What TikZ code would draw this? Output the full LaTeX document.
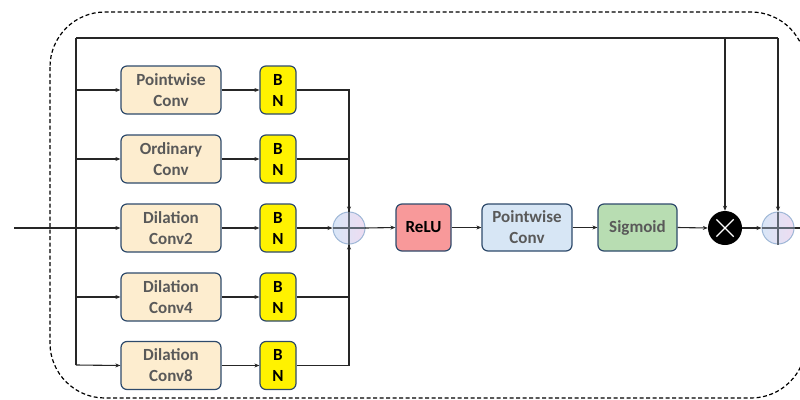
\documentclass[tikz,border=0pt]{standalone}
\usepackage{fontspec}
\setmainfont{Carlito}
\usetikzlibrary{arrows.meta}
\definecolor{convfill}{HTML}{FDEDCF}
\definecolor{boxline}{HTML}{2E4A6B}
\definecolor{txtgray}{HTML}{595959}
\definecolor{linec}{HTML}{262626}
\definecolor{relufill}{HTML}{F8999A}
\definecolor{pwfill}{HTML}{D7E6F5}
\definecolor{sigfill}{HTML}{B8DDB2}
\definecolor{plusA}{HTML}{D8E6F7}
\definecolor{plusB}{HTML}{EEDCF1}
\definecolor{plusline}{HTML}{9DB6D6}
\definecolor{crossc}{HTML}{5E6773}
\begin{document}
\begin{tikzpicture}[x=1pt,y=-1pt,
  box/.style={draw=boxline, rounded corners=6pt, line width=1.2pt, inner sep=0pt, align=center,
    font=\bfseries\fontsize{17}{21}\selectfont},
  conv/.style={box, fill=convfill, text=txtgray, minimum width=100pt, minimum height=48pt},
  bn/.style={box, fill=yellow, text=black, minimum width=36pt, minimum height=48pt},
  plusnode/.style={circle, draw=plusline, line width=1pt, left color=plusA, right color=plusB, minimum size=32pt, inner sep=0pt},
  conn/.style={line width=1.1pt, draw=linec, -{Stealth[length=5pt,width=4pt]}},
  plain/.style={line width=1.1pt, draw=linec},
  crossline/.style={line width=1.4pt, draw=crossc}
]
\useasboundingbox (0,0) rectangle (800,399);
% dashed enclosure
\draw[dashed, dash pattern=on 4pt off 2.5pt, line width=1.2pt, rounded corners=55pt] (50,12) rectangle (806,398);

% coordinates
\coordinate (in) at (14,228);
\coordinate (bt) at (76,38);
\coordinate (bb) at (76,365);
\coordinate (tr) at (778,38);
\coordinate (tm) at (725,38);
\coordinate (out) at (800,228);

% conv nodes
\node[conv] (c1) at (171,90) {Pointwise\\Conv};
\node[conv] (c2) at (171,159) {Ordinary\\Conv};
\node[conv] (c3) at (171,228) {Dilation\\Conv2};
\node[conv] (c4) at (171,297) {Dilation\\Conv4};
\node[conv] (c5) at (171,365.5) {Dilation\\Conv8};
% BN nodes
\node[bn] (b1) at (278,90) {B\\N};
\node[bn] (b2) at (278,159) {B\\N};
\node[bn] (b3) at (278,228) {B\\N};
\node[bn] (b4) at (278,297) {B\\N};
\node[bn] (b5) at (278,365.5) {B\\N};
% sum
\node[plusnode] (p1) at (349,228) {};
\draw[crossline] (p1.north) -- (p1.south);
\draw[crossline] (p1.west) -- (p1.east);
% pipeline
\node[box, fill=relufill, text=black, minimum width=55pt, minimum height=47pt] (relu) at (423.5,227.5) {ReLU};
\node[box, fill=pwfill, text=txtgray, minimum width=90pt, minimum height=47pt] (pw) at (527,227.5) {Pointwise\\Conv};
\node[box, fill=sigfill, text=txtgray, minimum width=79pt, minimum height=47pt] (sig) at (637.5,227.5) {Sigmoid};
\node[circle, fill=black, minimum size=34pt, inner sep=0pt] (mul) at (725,228) {};
\draw[white, line width=1.2pt, shorten <=5pt, shorten >=5pt] (mul.north west) -- (mul.south east);
\draw[white, line width=1.2pt, shorten <=5pt, shorten >=5pt] (mul.north east) -- (mul.south west);
\node[plusnode] (p2) at (778,228) {};
\draw[crossline] (p2.north) -- (p2.south);
\draw[crossline] (p2.west) -- (p2.east);

% bus and skip
\draw[plain, line width=1.8pt] (bt) -- (bb);
\draw[plain] (bt) -- (tr);
\draw[conn] (tr) -- (p2.north);
\draw[conn] (tm) -- (mul.north);
\draw[conn] (in) -- (c3.west);
\draw[conn] (bt |- c1) -- (c1.west);
\draw[conn] (bt |- c2) -- (c2.west);
\draw[conn] (bt |- c4) -- (c4.west);
\draw[conn] (bb) -- (c5.west);
\foreach \i in {1,...,5} {\draw[conn] (c\i.east) -- (b\i.west);}
\draw[conn] (b1.east) -| (p1.north);
\draw[plain] (b2.east) -| (p1.north);
\draw[conn] (b3.east) -- (p1.west);
\draw[plain] (b4.east) -| (p1.south);
\draw[conn] (b5.east) -| (p1.south);
\draw[conn] (p1.east) -- (relu.west);
\draw[conn] (relu.east) -- (pw.west);
\draw[conn] (pw.east) -- (sig.west);
\draw[conn] (sig.east) -- (mul.west);
\draw[conn] (mul.east) -- (p2.west);
\draw[plain] (p2.east) -- (out);
\end{tikzpicture}
\end{document}
